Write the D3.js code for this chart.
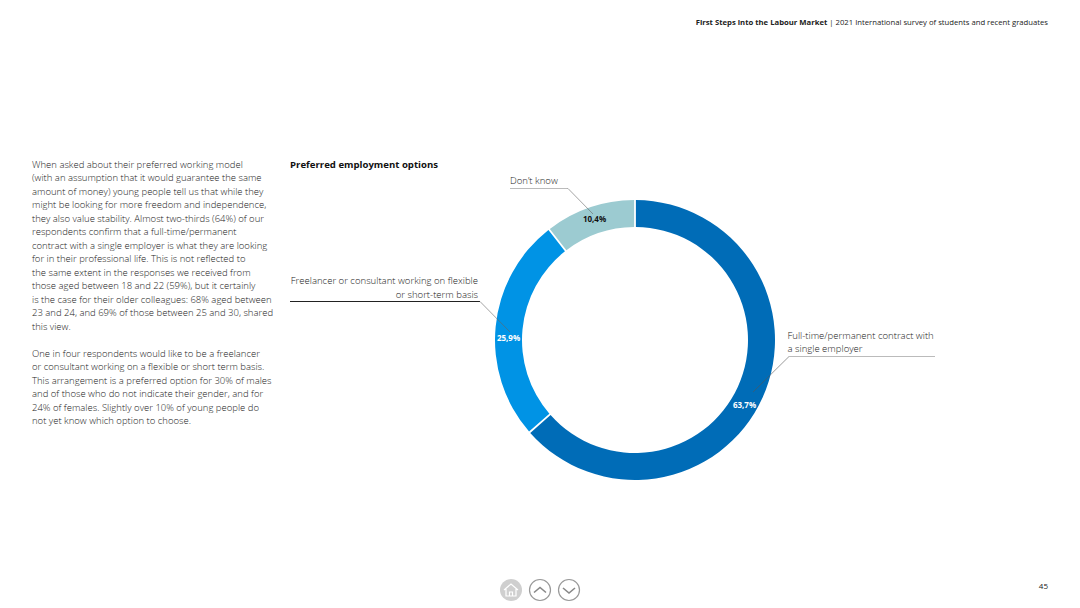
<!DOCTYPE html>
<html><head><meta charset="utf-8">
<script src="https://cdnjs.cloudflare.com/ajax/libs/d3/7.8.5/d3.min.js"></script>
<style>
html,body{margin:0;padding:0;background:#fff;overflow:hidden}
text{font-family:"Open Sans",sans-serif}
</style></head><body>
<svg id="c" width="1080" height="608"></svg>
<script>
const categories = ["Full-time/permanent contract with a single employer","Freelancer or consultant working on flexible or short-term basis","Don't know"];
const values = [63.7,25.9,10.4];
const valueLabels = ["63,7%","25,9%","10,4%"];
const colors = ["#006cb7","#0093e5","#9ccbd1"];
const labelColors = ["#fff","#fff","#111"];
const bodyLines = [
"When asked about their preferred working model",
"(with an assumption that it would guarantee the same",
"amount of money) young people tell us that while they",
"might be looking for more freedom and independence,",
"they also value stability. Almost two-thirds (64%) of our",
"respondents confirm that a full-time/permanent",
"contract with a single employer is what they are looking",
"for in their professional life. This is not reflected to",
"the same extent in the responses we received from",
"those aged between 18 and 22 (59%), but it certainly",
"is the case for their older colleagues: 68% aged between",
"23 and 24, and 69% of those between 25 and 30, shared",
"this view.",
"",
"One in four respondents would like to be a freelancer",
"or consultant working on a flexible or short term basis.",
"This arrangement is a preferred option for 30% of males",
"and of those who do not indicate their gender, and for",
"24% of females. Slightly over 10% of young people do",
"not yet know which option to choose."];
const svg = d3.select("#c");
const cx=635, cy=340, R=140, r=113;
const pie = d3.pie().sort(null).value(d=>d).padAngle(0.01)(values);
const arc = d3.arc().innerRadius(r).outerRadius(R);
const g = svg.append("g").attr("transform",`translate(${cx},${cy})`);
g.selectAll("path").data(pie).join("path").attr("d",arc)
 .attr("fill",(d,i)=>colors[i]);

// leader lines
const lg=d3.line();
const lines=[
 {c:"#aaa",w:0.8,pts:[[789,356.5],[935,356.5]]},
 {c:"#555",w:0.6,pts:[[753,392],[789,356.5]]},
 {c:"#222",w:1,pts:[[290,301.5],[480,301.5]]},
 {c:"#666",w:0.6,pts:[[480,301.5],[510,332]]},
 {c:"#aaa",w:0.8,pts:[[510,188.5],[568,188.5]]},
 {c:"#666",w:0.6,pts:[[568,188.5],[593,214]]}];
svg.selectAll("path.lead").data(lines).join("path").attr("class","lead")
 .attr("d",d=>lg(d.pts)).attr("fill","none").attr("stroke",d=>d.c).attr("stroke-width",d=>d.w);

// value labels
const pos=[[744.5,405],[508.5,338],[594.5,219]];
svg.selectAll("text.v").data(valueLabels).join("text").attr("class","v")
 .attr("x",(d,i)=>pos[i][0]).attr("y",(d,i)=>pos[i][1]).attr("dy","0.35em")
 .attr("text-anchor","middle").attr("font-size",8).attr("font-weight",700)
 .attr("fill",(d,i)=>labelColors[i]).text(d=>d);

// category labels
const T=(x,y,s,o={})=>svg.append("text").attr("x",x).attr("y",y).attr("font-size",o.size||9.55)
 .attr("font-weight",o.weight||300).attr("fill",o.fill||"#222").attr("text-anchor",o.anchor||"start").text(s);
T(787.5,339,"Full-time/permanent contract with");
T(787.5,352,"a single employer");
T(478,284,"Freelancer or consultant working on flexible",{anchor:"end"});
T(478,298,"or short-term basis",{anchor:"end"});
T(510,184,"Don\u2019t know");

T(290,167.5,"Preferred employment options",{weight:700,fill:"#111",size:9.6});
bodyLines.forEach((s,i)=>{ if(s) T(32,167.5+i*13.52,s,{size:9.5}); });

// header
const h=svg.append("text").attr("x",1048).attr("y",24.5).attr("text-anchor","end").attr("font-size",7.7).attr("fill","#222");
h.append("tspan").attr("font-weight",700).text("First Steps into the Labour Market");
h.append("tspan").attr("font-weight",400).text("  |  2021 International survey of students and recent graduates");
T(1048,589,"45",{anchor:"end",size:8,weight:400,fill:"#222"});

// nav buttons
svg.append("circle").attr("cx",511).attr("cy",590).attr("r",11).attr("fill","#cfcfcf");
svg.append("path").attr("d","M504 590 L511 584 L518 590 M506 589 V596 H516 V589 M509.5 596 V592 H512.5 V596")
 .attr("fill","none").attr("stroke","#fff").attr("stroke-width",1.2);
[[540,"M534 592.5 L540 587.5 L546 592.5"],[569,"M563 588 L569 593 L575 588"]].forEach(([x,p])=>{
 svg.append("circle").attr("cx",x).attr("cy",590).attr("r",10.5).attr("fill","#fff").attr("stroke","#999").attr("stroke-width",1.2);
 svg.append("path").attr("d",p).attr("fill","none").attr("stroke","#888").attr("stroke-width",1.6);
});
</script></body></html>
